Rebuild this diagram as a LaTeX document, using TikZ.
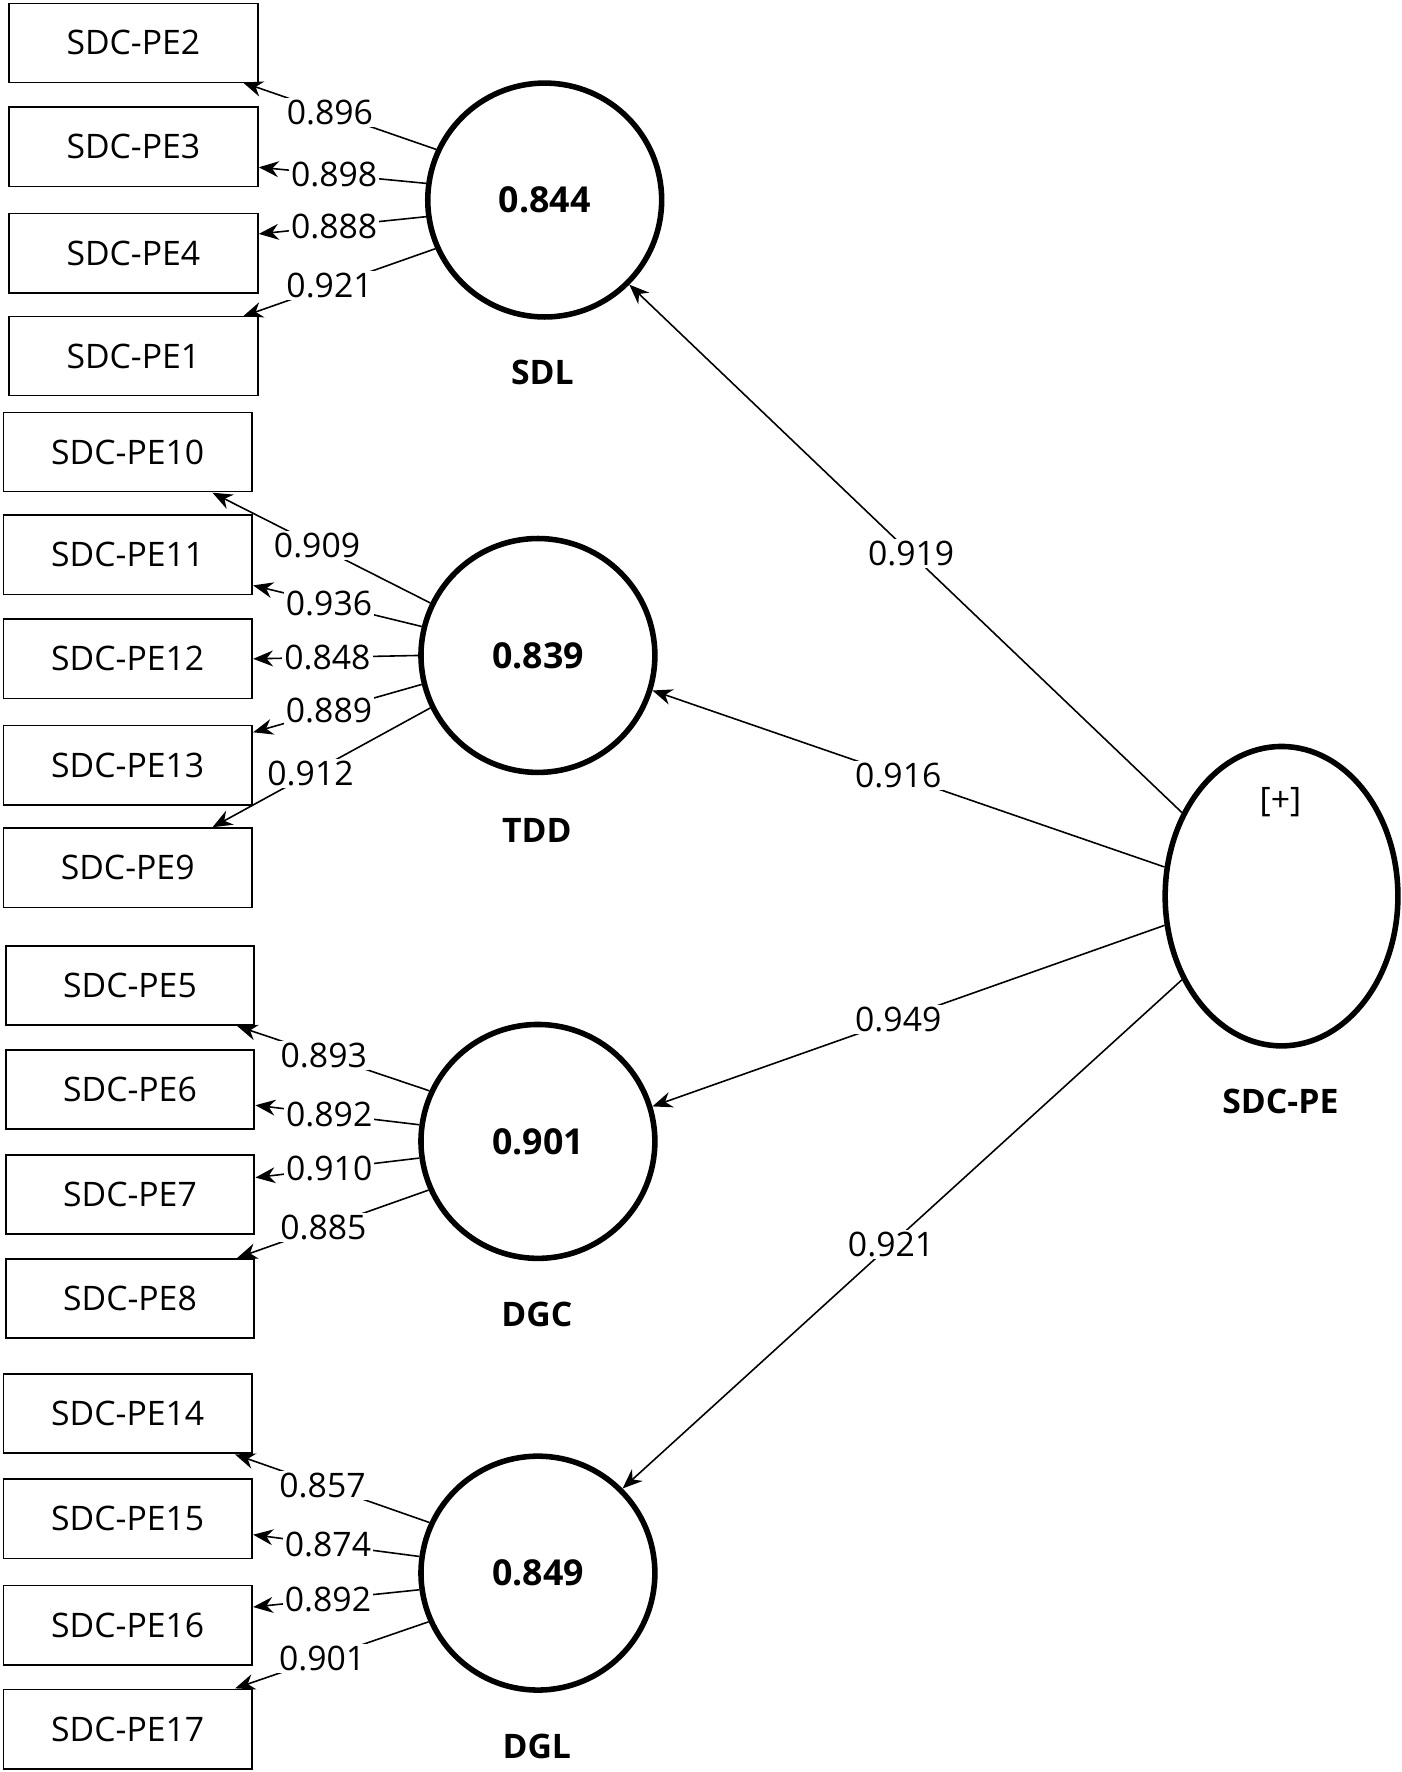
\documentclass[tikz,border=0pt]{standalone}
\usepackage{fontspec}
\setmainfont{Open Sans}
\usetikzlibrary{arrows.meta,shapes.geometric}
\begin{document}
\begin{tikzpicture}[x=0.02cm,y=-0.02cm,
  box/.style={draw,line width=0.9pt,minimum width=4.4cm,minimum height=1.4cm,inner sep=0pt,font=\fontsize{17}{20}\selectfont},
  lv/.style={circle,draw,line width=2.8pt,minimum size=4.14cm,inner sep=0pt,font=\bfseries\fontsize{18}{21}\selectfont},
  nm/.style={font=\bfseries\fontsize{17}{20}\selectfont},
  ar/.style={line width=0.8pt,-{Stealth[length=10pt,width=8pt]}},
  lb/.style={fill=white,inner sep=1pt,font=\fontsize{17}{20}\selectfont}]
\useasboundingbox (0,0) rectangle (1240,1568);
% SDL
\node[box] (b2) at (118,38) {SDC-PE2};
\node[box] (b3) at (118,130) {SDC-PE3};
\node[box] (b4) at (118,224) {SDC-PE4};
\node[box] (b1) at (118,315) {SDC-PE1};
\node[lv] (sdl) at (482,177) {0.844};
\node[nm] at (480,330) {SDL};
\coordinate (e2) at (215,73); \coordinate (e3) at (229,148);
\coordinate (e4) at (229,207); \coordinate (e1) at (215,280);
\draw[ar] (sdl.155) -- node[lb,pos=0.55]{0.896} (e2);
\draw[ar] (sdl.172) -- node[lb,pos=0.55]{0.898} (e3);
\draw[ar] (sdl.188) -- node[lb,pos=0.55]{0.888} (e4);
\draw[ar] (sdl.204) -- node[lb,pos=0.55]{0.921} (e1);
% TDD
\node[box] (b10) at (113,400) {SDC-PE10};
\node[box] (b11) at (113,491) {SDC-PE11};
\node[box] (b12) at (113,583) {SDC-PE12};
\node[box] (b13) at (113,677) {SDC-PE13};
\node[box] (b9) at (113,768) {SDC-PE9};
\node[lv] (tdd) at (476,580) {0.839};
\node[nm] at (475,735) {TDD};
\coordinate (e10) at (188,436); \coordinate (e11) at (224,518);
\coordinate (e12) at (224,583); \coordinate (e13) at (224,648);
\coordinate (e9) at (188,732);
\draw[ar] (tdd.154) -- node[lb,pos=0.52]{0.909} (e10);
\draw[ar] (tdd.166) -- node[lb,pos=0.55]{0.936} (e11);
\draw[ar] (tdd.180) -- node[lb,pos=0.55]{0.848} (e12);
\draw[ar] (tdd.194) -- node[lb,pos=0.55]{0.889} (e13);
\draw[ar] (tdd.206) -- node[lb,pos=0.55]{0.912} (e9);
% DGC
\node[box] (b5) at (115,872) {SDC-PE5};
\node[box] (b6) at (115,964) {SDC-PE6};
\node[box] (b7) at (115,1057) {SDC-PE7};
\node[box] (b8) at (115,1149) {SDC-PE8};
\node[lv] (dgc) at (476,1010) {0.901};
\node[nm] at (475,1163) {DGC};
\coordinate (e5) at (210,908); \coordinate (e6) at (226,978);
\coordinate (e7) at (226,1042); \coordinate (e8) at (210,1113);
\draw[ar] (dgc.155) -- node[lb,pos=0.55]{0.893} (e5);
\draw[ar] (dgc.172) -- node[lb,pos=0.55]{0.892} (e6);
\draw[ar] (dgc.188) -- node[lb,pos=0.55]{0.910} (e7);
\draw[ar] (dgc.204) -- node[lb,pos=0.55]{0.885} (e8);
% DGL
\node[box] (b14) at (113,1251) {SDC-PE14};
\node[box] (b15) at (113,1344) {SDC-PE15};
\node[box] (b16) at (113,1438) {SDC-PE16};
\node[box] (b17) at (113,1530) {SDC-PE17};
\node[lv] (dgl) at (476,1392) {0.849};
\node[nm] at (475,1545) {DGL};
\coordinate (e14) at (208,1287); \coordinate (e15) at (224,1358);
\coordinate (e16) at (224,1422); \coordinate (e17) at (208,1494);
\draw[ar] (dgl.155) -- node[lb,pos=0.55]{0.857} (e14);
\draw[ar] (dgl.172) -- node[lb,pos=0.55]{0.874} (e15);
\draw[ar] (dgl.188) -- node[lb,pos=0.55]{0.892} (e16);
\draw[ar] (dgl.204) -- node[lb,pos=0.55]{0.901} (e17);
% SDC-PE
\node[ellipse,draw,line width=2.8pt,minimum width=4.12cm,minimum height=5.3cm,inner sep=0pt] (pe) at (1134,793) {};
\node[font=\fontsize{17}{20}\selectfont] at (1133,710) {[+]};
\node[nm] at (1133,975) {SDC-PE};
\draw[ar] (pe.140) -- node[lb,pos=0.49]{0.919} (sdl.-45);
\draw[ar] (pe.166) -- node[lb,pos=0.52]{0.916} (tdd.-17);
\draw[ar] (pe.194) -- node[lb,pos=0.52]{0.949} (dgc.17);
\draw[ar] (pe.220) -- node[lb,pos=0.52]{0.921} (dgl.45);
\end{tikzpicture}
\end{document}
